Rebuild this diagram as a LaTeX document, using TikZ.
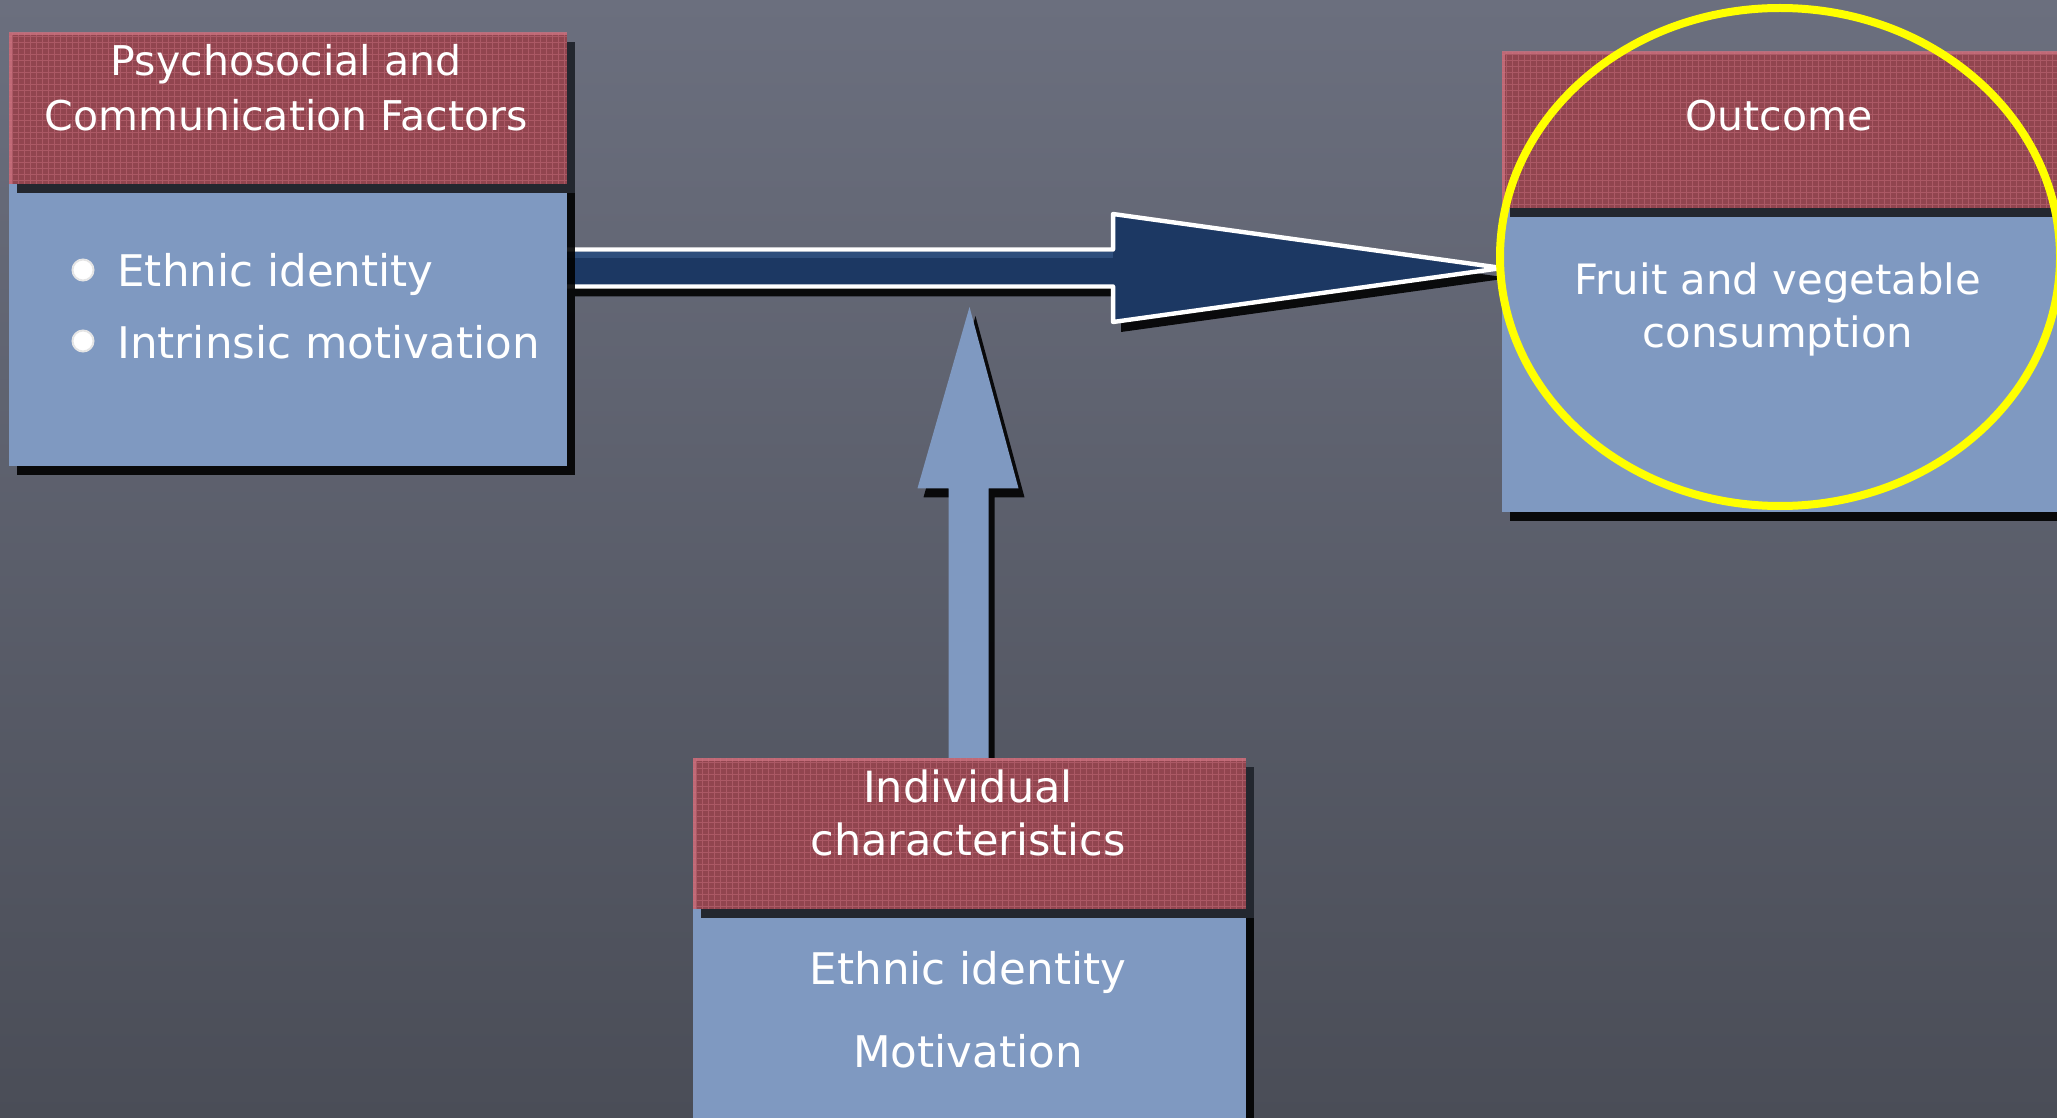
\documentclass[tikz,border=0pt]{standalone}
\usepackage{fontspec}
\setmainfont{DejaVu Sans}
\usetikzlibrary{calc,shadows,shapes.geometric}
\definecolor{bgtop}{HTML}{6B6F7E}
\definecolor{bgbot}{HTML}{4A4D57}
\definecolor{bodyblue}{HTML}{7F99C1}
\definecolor{hdrred}{HTML}{91454F}
\definecolor{hdrpink}{HTML}{CC7280}
\definecolor{stripdark}{HTML}{23272F}
\definecolor{navy}{HTML}{1C3863}
\definecolor{navyhi}{HTML}{3A5D8E}
\definecolor{hiyellow}{HTML}{FFFF00}
\pgfdeclarelayer{back}
\pgfdeclarelayer{mid}
\pgfsetlayers{back,mid,main}
\begin{document}
\begin{tikzpicture}[x=0.5pt,y=-0.5pt,
  bodybox/.style={fill=bodyblue, inner sep=0pt, outer sep=0pt, anchor=north west,
    drop shadow={shadow xshift=4pt, shadow yshift=-4.5pt, fill=black, opacity=0.9}},
  hdrbox/.style={fill=hdrred, inner sep=0pt, outer sep=0pt, anchor=north west,
    drop shadow={shadow xshift=4pt, shadow yshift=-4.5pt, fill=stripdark, opacity=1}},
  hdrgrid/.style={draw=hdrpink, line width=0.3pt, opacity=0.45},
  hdredge/.style={draw=hdrpink, line width=2.5pt, opacity=0.8},
  lbl/.style={text=white, font=\fontsize{20.5}{24}\selectfont, inner sep=0pt, anchor=base},
  lblbig/.style={lbl, font=\fontsize{21.5}{24}\selectfont},
  lblbody/.style={lbl, font=\fontsize{21.8}{24}\selectfont},
  lblsmall/.style={lbl, font=\fontsize{20.9}{24}\selectfont},
  lblw/.style={lblbody, anchor=base west},
  bulletdot/.style={circle, fill=white, draw=white!80!gray, line width=1pt, minimum size=10.5pt, inner sep=0pt},
  bigarrow/.style={fill=navy, drop shadow={shadow xshift=4pt, shadow yshift=-5pt, fill=black, opacity=0.9}},
  arrowedge/.style={draw=white, line width=2.2pt, line join=round},
  uparrow/.style={fill=bodyblue, drop shadow={shadow xshift=3pt, shadow yshift=-4.5pt, fill=black, opacity=0.9}},
  highlight/.style={ellipse, draw=hiyellow, line width=4pt, inner sep=0pt}
]
\useasboundingbox (0,0) rectangle (2057,1118);
\clip (0,0) rectangle (2057,1118);
\begin{pgfonlayer}{back}
\fill[top color=bgtop, bottom color=bgbot] (0,0) rectangle (2057,1118);
\end{pgfonlayer}

% boxes
\node[bodybox, minimum width=279pt, minimum height=216.5pt] (b1) at (9,33) {};
\node[hdrbox, minimum width=279pt, minimum height=75.5pt] (h1) at (9,33) {};
\node[bodybox, minimum width=285pt, minimum height=230pt] (b3) at (1502,52) {};
\node[hdrbox, minimum width=285pt, minimum height=78pt] (h3) at (1502,52) {};
\node[bodybox, minimum width=276.5pt, minimum height=190pt] (b2) at (693,758) {};
\node[hdrbox, minimum width=276.5pt, minimum height=75.5pt] (h2) at (693,758) {};

% header texture and light edges
\foreach \h in {h1,h2,h3}{
  \begin{scope}
    \clip (\h.north west) rectangle (\h.south east);
    \draw[hdrgrid] (\h.south west) grid[step=3pt] (\h.north east);
    \draw[hdredge] (\h.south west) -- (\h.north west) -- (\h.north east);
  \end{scope}
}

% horizontal block arrow
\coordinate (a1s) at ($(b1.north east)+(0,235)$);
\coordinate (a1e) at (b3.west |- a1s);
\coordinate (a1h) at ($(a1s)!0.584!(a1e)$);
\begin{pgfonlayer}{mid}
\fill[bigarrow] ($(a1s)+(0,-18.5)$) -- ($(a1h)+(0,-18.5)$) -- ($(a1h)+(0,-54)$) -- (a1e)
  -- ($(a1h)+(0,54)$) -- ($(a1h)+(0,18.5)$) -- ($(a1s)+(0,18.5)$) -- cycle;
\fill[navyhi, opacity=0.6] ($(a1s)+(0,-16)$) -- ($(a1h)+(0,-16)$) -- ($(a1h)+(0,-10)$) -- ($(a1s)+(0,-10)$) -- cycle;
\draw[arrowedge] ($(a1s)+(0,-18.5)$) -- ($(a1h)+(0,-18.5)$) -- ($(a1h)+(0,-54)$) -- (a1e)
  -- ($(a1h)+(0,54)$) -- ($(a1h)+(0,18.5)$) -- ($(a1s)+(0,18.5)$);
\end{pgfonlayer}

% vertical block arrow
\coordinate (a2s) at (b2.north);
\coordinate (a2tip) at ($(b2.north)+(0,-451)$);
\coordinate (a2h) at ($(a2s)!0.598!(a2tip)$);
\begin{pgfonlayer}{mid}
\fill[uparrow] ($(a2s)+(-21,0)$) -- ($(a2h)+(-21,0)$) -- ($(a2h)+(-52,0)$) -- (a2tip)
  -- ($(a2h)+(49,0)$) -- ($(a2h)+(19,0)$) -- ($(a2s)+(19,0)$) -- cycle;
\end{pgfonlayer}

% texts
\node[lbl] (t1a) at (286,76) {Psychosocial and};
\node[lbl] (t1b) at (286,131) {Communication Factors};
\node[bulletdot] (d1) at (83,270) {};
\node[bulletdot] (d2) at (83,341) {};
\node[lblw] (t1c) at (117,287) {Ethnic identity};
\node[lblw] (t1d) at (117,358) {Intrinsic motivation};

\node[lbl] (t3a) at (1779,131) {Outcome};
\node[lblsmall] (t3b) at (1778,295) {Fruit and vegetable};
\node[lblsmall] (t3c) at (1778,348) {consumption};

\node[lblbig] (t2a) at (968,802) {Individual};
\node[lblbig] (t2b) at (968,855) {characteristics};
\node[lblbody] (t2c) at (968,984) {Ethnic identity};
\node[lblbody] (t2d) at (968,1067) {Motivation};

% yellow highlight
\node[highlight, minimum width=280pt, minimum height=249pt] (hl) at (1780,257) {};
\end{tikzpicture}
\end{document}
